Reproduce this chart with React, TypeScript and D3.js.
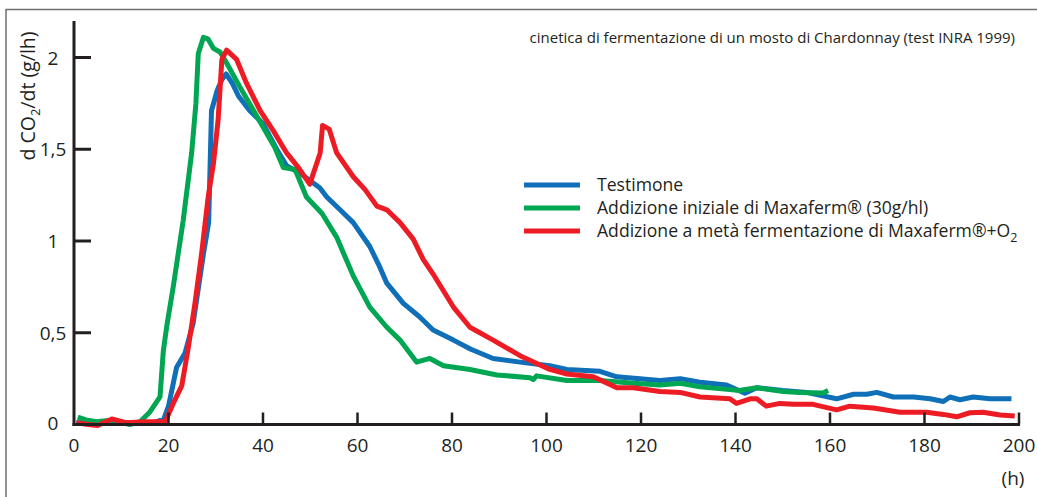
import React from "react";
import * as d3 from "d3";

const xTicks = [0, 20, 40, 60, 80, 100, 120, 140, 160, 180, 200];
const yTicks = [0, 0.5, 1, 1.5, 2];
const yTickLabels = ["0", "0,5", "1", "1,5", "2"];

const testimone: [number, number][] = [
  [0.5, 0.01], [3, 0.01], [6, 0.005], [10, 0.01], [14, 0.01], [17, 0.01], [19, 0.03],
  [20, 0.1], [21.7, 0.31], [23.5, 0.39], [25.2, 0.55], [27.4, 0.93], [28.5, 1.1],
  [29.1, 1.71], [30.3, 1.82], [31.3, 1.88], [32.2, 1.91], [33.5, 1.86], [34.8, 1.79],
  [37.2, 1.71], [40, 1.64], [42.9, 1.5], [45, 1.41], [47.8, 1.37], [49.9, 1.33],
  [52, 1.29], [53.5, 1.24], [56.3, 1.17], [59.1, 1.1], [62.6, 0.97], [64.5, 0.87],
  [66.2, 0.77], [69.7, 0.66], [73, 0.59], [76, 0.515], [80.3, 0.46], [84, 0.41],
  [88.7, 0.36], [94.4, 0.34], [100.7, 0.32], [104.3, 0.3], [111.3, 0.29], [114.9, 0.26],
  [124, 0.24], [128.3, 0.25], [132.5, 0.23], [138.1, 0.215], [142, 0.17], [144.5, 0.2],
  [150, 0.185], [155, 0.175], [161.4, 0.14], [165, 0.165], [167.8, 0.165], [169.9, 0.175],
  [173.4, 0.15], [177.7, 0.15], [181.2, 0.14], [184, 0.125], [185.4, 0.15], [187.5, 0.135],
  [190.3, 0.15], [193.9, 0.14], [198.4, 0.14],
];

const maxaferm: [number, number][] = [
  [0.8, 0.04], [2.5, 0.025], [4.8, 0.015], [8.3, 0.025], [11.8, 0.0], [14, 0.015],
  [16.1, 0.07], [18.2, 0.15], [18.9, 0.4], [19.6, 0.53], [21, 0.75], [23.1, 1.11],
  [24.9, 1.48], [25.8, 1.75], [26.3, 2.02], [27.4, 2.11], [28.4, 2.1], [29.5, 2.05],
  [30.9, 2.03], [32.3, 1.97], [35.1, 1.84], [38.7, 1.68], [42.5, 1.51], [44.3, 1.4],
  [46.8, 1.39], [49.2, 1.24], [52.5, 1.15], [55.6, 1.02], [59.1, 0.81], [62.6, 0.64],
  [66.2, 0.53], [69, 0.46], [72.5, 0.34], [75.3, 0.36], [78.2, 0.32], [83.8, 0.3],
  [89.5, 0.27], [96.5, 0.255], [97.2, 0.245], [97.9, 0.265], [104.3, 0.24], [111.3, 0.24],
  [118.4, 0.225], [124, 0.215], [128.3, 0.225], [132.5, 0.205], [138.8, 0.19],
  [140.8, 0.185], [144.5, 0.2], [150.1, 0.18], [153.7, 0.175], [158.5, 0.172], [159.6, 0.185],
];

const maxafermO2: [number, number][] = [
  [0.5, 0.01], [3, 0.0], [5, -0.005], [8, 0.03], [11, 0.01], [15, 0.015], [19.3, 0.015],
  [21, 0.115], [22.8, 0.21], [24.2, 0.42], [25.6, 0.66], [27, 0.93], [28.4, 1.24],
  [29.5, 1.42], [30.5, 1.66], [31.3, 1.99], [32.3, 2.04], [34.4, 1.99], [36.5, 1.86],
  [39.4, 1.71], [42.2, 1.6], [45, 1.48], [47.5, 1.4], [49.9, 1.31], [52.1, 1.48],
  [52.6, 1.63], [54, 1.61], [55.6, 1.48], [59.1, 1.35], [61.6, 1.28], [64.1, 1.19],
  [66.2, 1.17], [69, 1.1], [71.8, 1.01], [73.9, 0.9], [76, 0.82], [80.3, 0.64],
  [83.8, 0.53], [88.7, 0.46], [94.4, 0.375], [100.7, 0.3], [104.3, 0.275], [109.9, 0.26],
  [114.9, 0.2], [118.4, 0.2], [124, 0.18], [128.3, 0.175], [132.5, 0.15], [138.8, 0.14],
  [140.2, 0.115], [143.1, 0.14], [144.5, 0.14], [146.5, 0.1], [149.4, 0.115], [152.2, 0.11],
  [156.4, 0.11], [161.4, 0.08], [164.2, 0.1], [169.2, 0.09], [174.8, 0.067], [180.4, 0.067],
  [184, 0.055], [186.8, 0.042], [189.6, 0.064], [192.4, 0.067], [196, 0.052], [199.1, 0.046],
];

const seriesNames = [
  "Testimone",
  "Addizione iniziale di Maxaferm® (30g/hl)",
  "Addizione a metà fermentazione di Maxaferm®+O",
];
const seriesColors = ["#0f6fb8", "#00a651", "#ed1c24"];

const W = 1037;
const H = 497;
const FONT = "'Open Sans', 'Noto Sans', sans-serif";
const AXIS = "#231f20";

export default function App() {
  const x = d3.scaleLinear().domain([0, 200]).range([74, 1019]);
  const y = d3.scaleLinear().domain([0, 2]).range([424.5, 57.5]);
  const line = d3
    .line<[number, number]>()
    .x((d) => x(d[0]))
    .y((d) => y(d[1]));
  const data = [testimone, maxaferm, maxafermO2];
  const legendY = [185, 208, 231];

  return (
    <svg
      width={W}
      height={H}
      style={{ position: "absolute", left: 0, top: 0, background: "#fff" }}
      fontFamily={FONT}
    >
      <rect x={0} y={0} width={W} height={H} fill="#fff" />
      {/* frame */}
      <line x1={5.5} y1={9.5} x2={W} y2={9.5} stroke="#6d6e71" strokeWidth={1.5} />
      <line x1={6} y1={9.5} x2={6} y2={H} stroke="#6d6e71" strokeWidth={1.5} />

      {/* title */}
      <text x={1015} y={43} textAnchor="end" fontSize={15} fill="#231f20">
        cinetica di fermentazione di un mosto di Chardonnay (test INRA 1999)
      </text>

      {/* series */}
      {data.map((d, i) => (
        <path
          key={i}
          d={line(d) || ""}
          fill="none"
          stroke={seriesColors[i]}
          strokeWidth={5}
          strokeLinejoin="round"
          strokeLinecap="butt"
        />
      ))}

      {/* axes */}
      <line x1={x(0)} y1={21} x2={x(0)} y2={y(0) + 1.5} stroke={AXIS} strokeWidth={3} />
      <line x1={x(0) - 1.5} y1={y(0)} x2={x(200) + 1} y2={y(0)} stroke={AXIS} strokeWidth={3} />
      {yTicks.map((t, i) => (
        <g key={"y" + i}>
          {t > 0 && (
            <line x1={x(0)} x2={x(0) + 17} y1={y(t)} y2={y(t)} stroke={AXIS} strokeWidth={3} />
          )}
          <text
            x={53}
            y={y(t) - (t === 0 ? 2 : 0)}
            textAnchor="middle"
            dominantBaseline="central"
            fontSize={19}
            fill={AXIS}
          >
            {yTickLabels[i]}
          </text>
        </g>
      ))}
      {xTicks.map((t) => (
        <g key={"x" + t}>
          {t > 0 && (
            <line x1={x(t)} x2={x(t)} y1={y(0)} y2={y(0) - 12} stroke={AXIS} strokeWidth={2.5} />
          )}
          <text x={x(t)} y={452} textAnchor="middle" fontSize={19} fill={AXIS}>
            {t}
          </text>
        </g>
      ))}
      <text x={1013} y={485} textAnchor="middle" fontSize={19} fill={AXIS}>
        (h)
      </text>

      {/* y title */}
      <text
        transform="translate(35,96) rotate(-90)"
        textAnchor="middle"
        fontSize={19.5}
        fill={AXIS}
      >
        d CO<tspan dy={5} fontSize={13}>2</tspan>
        <tspan dy={-5}>/dt (g/lh)</tspan>
      </text>

      {/* legend */}
      {seriesNames.map((n, i) => (
        <g key={"l" + i}>
          <line
            x1={524}
            x2={580}
            y1={legendY[i]}
            y2={legendY[i]}
            stroke={seriesColors[i]}
            strokeWidth={5}
          />
          <text x={597} y={legendY[i] + 6} fontSize={17.6} fill={AXIS}>
            {n}
            {i === 2 && (
              <tspan dy={5} fontSize={12.5}>
                2
              </tspan>
            )}
          </text>
        </g>
      ))}
    </svg>
  );
}
